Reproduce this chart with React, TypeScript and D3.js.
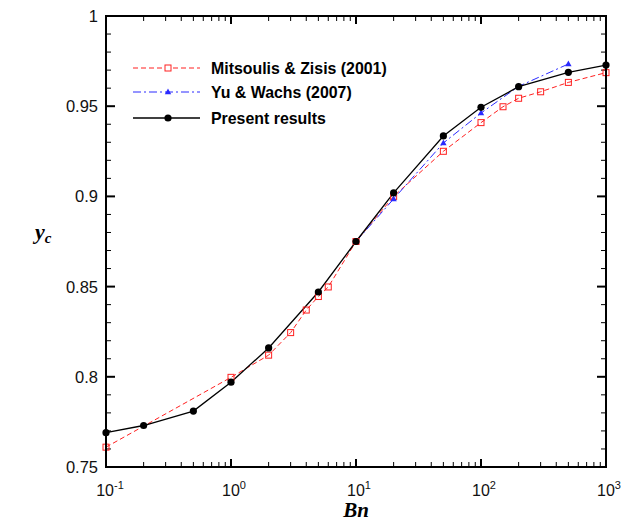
import React from "react";
import * as d3 from "d3";

const presentBn = [0.1, 0.2, 0.5, 1, 2, 5, 10, 20, 50, 100, 200, 500, 1000];
const presentYc = [0.769, 0.773, 0.781, 0.797, 0.816, 0.847, 0.875, 0.902, 0.9335, 0.9494, 0.9608, 0.9688, 0.9728];

const mitsoulisBn = [0.1, 1, 2, 3, 4, 5, 6, 10, 20, 50, 100, 150, 200, 300, 500, 1000];
const mitsoulisYc = [0.761, 0.7997, 0.812, 0.8245, 0.837, 0.8445, 0.8498, 0.875, 0.9, 0.925, 0.9409, 0.9497, 0.9544, 0.958, 0.9632, 0.9686];

const yuBn = [10, 20, 50, 100, 200, 500];
const yuYc = [0.875, 0.8986, 0.9296, 0.9462, 0.961, 0.9734];

const yTicks = [0.75, 0.8, 0.85, 0.9, 0.95, 1];
const yTickLabels = ["0.75", "0.8", "0.85", "0.9", "0.95", "1"];
const xDecades = [-1, 0, 1, 2, 3];

const W = 622, H = 524;
const L = 106, R = 606, T = 16, B = 467;

export default function App() {
  const x = d3.scaleLog().domain([0.1, 1000]).range([L, R]);
  const y = d3.scaleLinear().domain([0.75, 1]).range([B, T]);

  const line = (xs: number[], ys: number[]) =>
    d3.line<number>().x((_, i) => x(xs[i])).y((_, i) => y(ys[i]))(xs.map((_, i) => i)) || "";

  const minorX: number[] = [];
  for (let e = -1; e < 3; e++) for (let k = 2; k <= 9; k++) minorX.push(k * Math.pow(10, e));
  const minorY: number[] = d3.range(0, 26).map((i) => 0.75 + i * 0.01).filter((v) => Math.abs(Math.round(v * 20) - v * 20) > 1e-6);

  const font = "'Liberation Sans', Arial, Helvetica, sans-serif";
  const serif = "'Liberation Serif', 'Times New Roman', serif";

  const tri = (cx: number, cy: number, s = 3.2) =>
    `M${cx},${cy - s * 1.1} L${cx + s},${cy + s * 0.7} L${cx - s},${cy + s * 0.7} Z`;

  const legendRows = [
    { label: "Mitsoulis & Zisis (2001)", y: 68 },
    { label: "Yu & Wachs (2007)", y: 92 },
    { label: "Present results", y: 118 },
  ];

  return (
    <svg width={W} height={H} style={{ position: "fixed", left: 0, top: 0, background: "#fff" }}>
      <rect x={0} y={0} width={W} height={H} fill="#fff" />
      {/* ticks */}
      <g stroke="#000" strokeWidth={1}>
        {xDecades.map((e) => {
          const px = x(Math.pow(10, e));
          return (
            <g key={"xd" + e}>
              <line x1={px} x2={px} y1={B} y2={B - 8} strokeWidth={2} />
              <line x1={px} x2={px} y1={T} y2={T + 8} strokeWidth={2} />
            </g>
          );
        })}
        {minorX.map((v, i) => (
          <g key={"xm" + i}>
            <line x1={x(v)} x2={x(v)} y1={B} y2={B - 5} />
            <line x1={x(v)} x2={x(v)} y1={T} y2={T + 5} />
          </g>
        ))}
        {yTicks.map((v, i) => (
          <g key={"yt" + i}>
            <line x1={L} x2={L + 9} y1={y(v)} y2={y(v)} strokeWidth={2} />
            <line x1={R} x2={R - 9} y1={y(v)} y2={y(v)} strokeWidth={2} />
          </g>
        ))}
        {minorY.map((v, i) => (
          <g key={"ym" + i}>
            <line x1={L} x2={L + 5} y1={y(v)} y2={y(v)} />
            <line x1={R} x2={R - 5} y1={y(v)} y2={y(v)} />
          </g>
        ))}
      </g>
      {/* tick labels */}
      {yTicks.map((v, i) => (
        <text key={"yl" + i} x={L - 8} y={y(v)} dy="0.36em" textAnchor="end" fontFamily={font} fontSize={16.5} fill="#111">
          {yTickLabels[i]}
        </text>
      ))}
      {xDecades.map((e) => (
        <text key={"xl" + e} x={x(Math.pow(10, e)) + (e < 0 ? 4 : 3)} y={496} textAnchor="middle" fontFamily={font} fontSize={16} fill="#111">
          10
          <tspan fontSize={11} dy={-7}>{e}</tspan>
        </text>
      ))}
      <text x={356} y={517} textAnchor="middle" fontFamily={serif} fontSize={21} fontWeight="bold" fontStyle="italic">Bn</text>
      <text x={35} y={239} fontFamily={serif} fontSize={22} fontWeight="bold" fontStyle="italic">
        y<tspan fontSize={15} dy={4}>c</tspan>
      </text>

      {/* series */}
      <path d={line(mitsoulisBn, mitsoulisYc)} fill="none" stroke="#ff2020" strokeWidth={1} strokeDasharray="5,3" />
      <path d={line(yuBn, yuYc)} fill="none" stroke="#2a2aff" strokeWidth={1} strokeDasharray="8,3,2,3" />
      <path d={line(presentBn, presentYc)} fill="none" stroke="#000" strokeWidth={1.3} />
      {mitsoulisBn.map((v, i) => (
        <rect key={"m" + i} x={x(v) - 3} y={y(mitsoulisYc[i]) - 3} width={6} height={6} fill="none" stroke="#ff2020" strokeWidth={1} />
      ))}
      {yuBn.map((v, i) => (
        <path key={"yu" + i} d={tri(x(v), y(yuYc[i]))} fill="#2a2aff" />
      ))}
      {presentBn.map((v, i) => (
        <circle key={"p" + i} cx={x(v)} cy={y(presentYc[i])} r={3.6} fill="#000" />
      ))}

      {/* legend */}
      <g>
        <line x1={133} x2={200} y1={68} y2={68} stroke="#ff2020" strokeDasharray="5,3" />
        <rect x={165} y={65} width={6} height={6} fill="#fff" stroke="#ff2020" />
        <line x1={133} x2={200} y1={92} y2={92} stroke="#2a2aff" strokeDasharray="8,3,2,3" />
        <path d={tri(168, 92)} fill="#2a2aff" />
        <line x1={133} x2={200} y1={118} y2={118} stroke="#000" strokeWidth={1.3} />
        <circle cx={168} cy={118} r={3.6} fill="#000" />
        {legendRows.map((r) => (
          <text key={r.label} x={211} y={r.y} dy="0.36em" fontFamily={font} fontSize={15.9} fontWeight="bold" fill="#000">
            {r.label}
          </text>
        ))}
      </g>

      {/* frame */}
      <rect x={L} y={T} width={R - L} height={B - T} fill="none" stroke="#000" strokeWidth={2} />
    </svg>
  );
}
